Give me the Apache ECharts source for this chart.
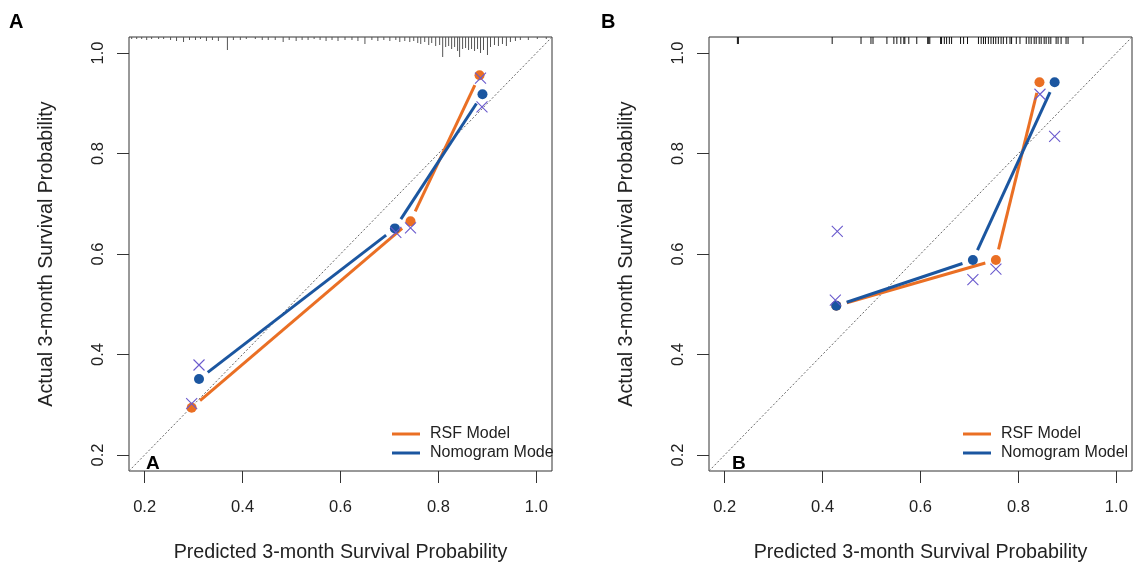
<!DOCTYPE html>
<html><head><meta charset="utf-8">
<script src="https://cdn.jsdelivr.net/npm/echarts@6/dist/echarts.min.js"></script>
<style>html,body{margin:0;padding:0;background:#fff}#c{width:1134px;height:568px}</style>
</head><body><div id="c"></div>
<script>
// ---------- data ----------
const AX_MIN = 0.168, AX_MAX = 1.032;
const tickValues = [0.2, 0.4, 0.6, 0.8, 1.0];
const seriesNames = ['RSF Model', 'Nomogram Model'];
const xTitle = 'Predicted 3-month Survival Probability';
const yTitle = 'Actual 3-month Survival Probability';

// Panel A
const rsfA_pred  = [0.296, 0.743, 0.884];
const rsfA_obs   = [0.294, 0.665, 0.956];
const nomoA_pred = [0.311, 0.711, 0.890];
const nomoA_obs  = [0.351, 0.651, 0.918];
const crossA_pred = [0.296, 0.311, 0.713, 0.743, 0.886, 0.889];
const crossA_obs  = [0.302, 0.379, 0.643, 0.652, 0.950, 0.893];
const rugA_x = [0.1735,0.1837,0.1939,0.2041,0.2142,0.2285,0.2387,0.2529,0.2651,0.2794,0.2916,0.3038,0.3140,0.3262,0.3384,0.3506,0.3690,0.3812,0.3954,0.4076,0.4260,0.4402,0.4524,0.4667,0.4829,0.4952,0.5094,0.5216,0.5338,0.5461,0.5583,0.5705,0.5827,0.5949,0.6092,0.6234,0.6356,0.6499,0.6641,0.6763,0.6885,0.7008,0.7130,0.7211,0.7313,0.7415,0.7496,0.7578,0.7639,0.7720,0.7802,0.7863,0.7944,0.8025,0.8087,0.8148,0.8209,0.8270,0.8331,0.8392,0.8433,0.8494,0.8555,0.8616,0.8677,0.8738,0.8799,0.8860,0.8921,0.9002,0.9064,0.9145,0.9226,0.9308,0.9389,0.9471,0.9573,0.9674,0.9837,1.0020,1.0203];
const rugA_freq = [2,2,2,3,2,2,2,3,4,5,3,3,2,4,3,4,13,3,3,2,2,3,3,3,5,3,4,3,3,2,3,4,3,4,3,3,4,7,3,4,3,4,3,5,4,5,4,6,7,5,8,6,9,8,20,10,9,12,10,14,20,12,11,13,12,14,12,16,13,18,10,8,9,7,9,5,4,3,3,2,2];

// Panel B
const rsfB_pred  = [0.428, 0.754, 0.843];
const rsfB_obs   = [0.497, 0.588, 0.942];
const nomoB_pred = [0.428, 0.707, 0.874];
const nomoB_obs  = [0.497, 0.588, 0.942];
const crossB_pred = [0.426, 0.430, 0.707, 0.754, 0.844, 0.874];
const crossB_obs  = [0.508, 0.645, 0.549, 0.570, 0.918, 0.834];
const rugB_x = [0.226,0.228,0.4196,0.4785,0.4988,0.503,0.5314,0.5456,0.5517,0.5598,0.566,0.568,0.5761,0.5924,0.6147,0.6168,0.619,0.6411,0.643,0.6487,0.6533,0.659,0.6635,0.6818,0.688,0.696,0.7184,0.7239,0.7286,0.7327,0.7387,0.744,0.7489,0.7537,0.759,0.7646,0.7692,0.776,0.7828,0.786,0.7957,0.8032,0.816,0.8215,0.8261,0.8322,0.8363,0.8424,0.8465,0.8526,0.8566,0.8621,0.8662,0.877,0.881,0.8872,0.8973,0.9014,0.9319];

// ---------- styles ----------
const ORANGE = '#EA6F24', BLUE = '#1B56A0', PURPLE = '#6A5ACD', INK = '#222';
const FONT = 'Liberation Sans, Arial, sans-serif';
const GAP = 11;

function zip(a, b) { return a.map((v, i) => [v, b[i]]); }

function gapSeries(name, gi, xs, ys, color) {
  const data = [];
  for (let i = 0; i < xs.length - 1; i++) data.push([xs[i], ys[i], xs[i + 1], ys[i + 1]]);
  return {
    type: 'custom', name, xAxisIndex: gi, yAxisIndex: gi, data, z: 3,
    itemStyle: { color }, encode: { x: [0, 2], y: [1, 3] },
    renderItem(params, api) {
      const a = api.coord([api.value(0), api.value(1)]);
      const b = api.coord([api.value(2), api.value(3)]);
      const dx = b[0] - a[0], dy = b[1] - a[1], L = Math.hypot(dx, dy);
      const ux = dx / L, uy = dy / L;
      return { type: 'line',
        shape: { x1: a[0] + ux * GAP, y1: a[1] + uy * GAP, x2: b[0] - ux * GAP, y2: b[1] - uy * GAP },
        style: { stroke: color, lineWidth: 3 } };
    }
  };
}
function pointSeries(gi, xs, ys, color) {
  return { type: 'scatter', xAxisIndex: gi, yAxisIndex: gi, data: zip(xs, ys), symbol: 'circle',
    symbolSize: 10, itemStyle: { color, opacity: 1 }, z: 4, silent: true };
}
function crossSeries(gi, xs, ys) {
  return { type: 'scatter', xAxisIndex: gi, yAxisIndex: gi, data: zip(xs, ys),
    symbol: 'path://M0,0L10,10M10,0L0,10', symbolSize: 11,
    itemStyle: { color: 'none', borderColor: PURPLE, borderWidth: 1.1, opacity: 1 }, z: 5, silent: true };
}
function diagSeries(gi) {
  return { type: 'line', xAxisIndex: gi, yAxisIndex: gi, data: [[AX_MIN, AX_MIN], [AX_MAX, AX_MAX]],
    symbol: 'none', lineStyle: { color: '#666', width: 1, type: [2, 2] }, z: 2, silent: true };
}
function rugSeries(gi, xs, lens, color, width) {
  return { type: 'custom', xAxisIndex: gi, yAxisIndex: gi, data: xs.map((x, i) => [x, lens ? lens[i] : 1]), z: 2, silent: true,
    renderItem(params, api) {
      const p = api.coord([api.value(0), AX_MAX]);
      const len = lens ? api.value(1) : 7;
      return { type: 'line', shape: { x1: p[0], y1: p[1], x2: p[0], y2: p[1] + len },
        style: { stroke: color, lineWidth: width } };
    }
  };
}
function xAxis(gi) {
  return { type: 'value', gridIndex: gi, min: AX_MIN, max: AX_MAX, name: xTitle, nameLocation: 'middle', nameGap: 72,
    nameTextStyle: { fontFamily: FONT, fontSize: 19.7, color: INK },
    axisLine: { show: false }, splitLine: { show: false },
    axisTick: { show: true, customValues: tickValues, length: 12, lineStyle: { color: '#333' } },
    axisLabel: { customValues: tickValues, margin: 28, fontFamily: FONT, fontSize: 16.5, color: INK, formatter: v => v.toFixed(1) } };
}
function yAxis(gi) {
  return { type: 'value', gridIndex: gi, min: AX_MIN, max: AX_MAX, name: yTitle, nameLocation: 'middle', nameGap: 72,
    nameTextStyle: { fontFamily: FONT, fontSize: 19.7, color: INK },
    axisLine: { show: false }, splitLine: { show: false },
    axisTick: { show: true, customValues: tickValues, length: 12, lineStyle: { color: '#333' } },
    axisLabel: { customValues: tickValues, margin: 22, rotate: 90, fontFamily: FONT, fontSize: 16.5, color: INK, formatter: v => v.toFixed(1) } };
}
function legend(left) {
  return { left, top: 421, orient: 'vertical', itemGap: 3, itemWidth: 28, itemHeight: 3, z: 4,
    textStyle: { fontFamily: FONT, fontSize: 16, color: INK, padding: [0, 0, 0, 5] },
    data: seriesNames.map(n => ({ name: n, icon: 'rect' })), selectedMode: false };
}

const chart = echarts.init(document.getElementById('c'), null, { renderer: 'canvas' });
chart.setOption({
  backgroundColor: '#fff',
  animation: false,
  grid: [
    { left: 129, top: 37, width: 423, height: 434, show: true, borderColor: '#333', borderWidth: 1, backgroundColor: 'transparent' },
    { left: 709, top: 37, width: 423, height: 434, show: true, borderColor: '#333', borderWidth: 1, backgroundColor: 'transparent' }
  ],
  xAxis: [xAxis(0), xAxis(1)],
  yAxis: [yAxis(0), yAxis(1)],
  legend: [legend(387), legend(958)],
  graphic: [
    { type: 'text', left: 9, top: 12, style: { text: 'A', font: 'bold 20px ' + FONT, fill: '#000' } },
    { type: 'text', left: 601, top: 12, style: { text: 'B', font: 'bold 20px ' + FONT, fill: '#000' } },
    { type: 'text', left: 146, top: 454, style: { text: 'A', font: 'bold 19px ' + FONT, fill: '#000' } },
    { type: 'text', left: 732, top: 454, style: { text: 'B', font: 'bold 19px ' + FONT, fill: '#000' } },
    { type: 'rect', z: 100, shape: { x: 553, y: 440, width: 12, height: 26 }, style: { fill: '#fff' } }
  ],
  series: [
    diagSeries(0), diagSeries(1),
    rugSeries(0, rugA_x, rugA_freq, '#555', 1),
    rugSeries(1, rugB_x, null, '#111', 1),
    gapSeries(seriesNames[0], 0, rsfA_pred, rsfA_obs, ORANGE),
    gapSeries(seriesNames[1], 0, nomoA_pred, nomoA_obs, BLUE),
    gapSeries(seriesNames[0], 1, rsfB_pred, rsfB_obs, ORANGE),
    gapSeries(seriesNames[1], 1, nomoB_pred, nomoB_obs, BLUE),
    pointSeries(0, rsfA_pred, rsfA_obs, ORANGE),
    pointSeries(0, nomoA_pred, nomoA_obs, BLUE),
    pointSeries(1, rsfB_pred, rsfB_obs, ORANGE),
    pointSeries(1, nomoB_pred, nomoB_obs, BLUE),
    crossSeries(0, crossA_pred, crossA_obs),
    crossSeries(1, crossB_pred, crossB_obs)
  ]
});
</script></body></html>
